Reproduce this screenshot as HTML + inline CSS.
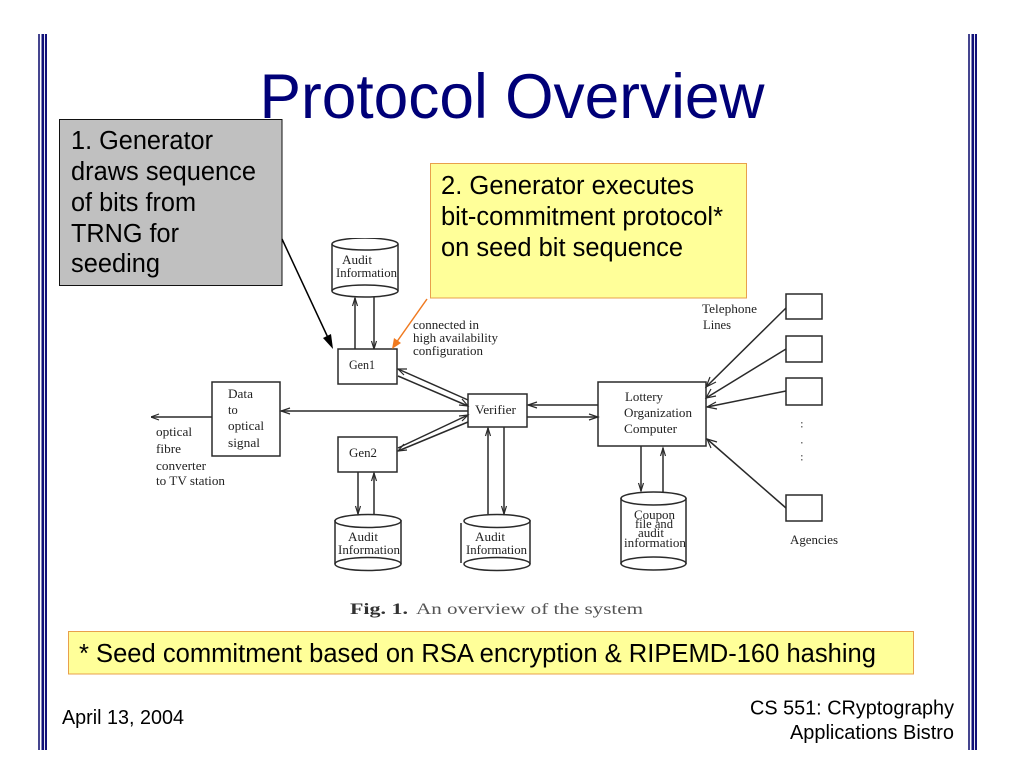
<!DOCTYPE html>
<html>
<head>
<meta charset="utf-8">
<style>
html,body{margin:0;padding:0;background:#fff;width:1024px;height:768px;overflow:hidden}
svg{display:block}
text{font-family:"Liberation Sans",sans-serif}
.d text{font-family:"Liberation Serif",serif;font-size:12.5px;fill:#222}
.l{fill:none;stroke:#2a2a2a;stroke-width:1.5}
.b{fill:#fff;stroke:#2a2a2a;stroke-width:1.5}
.h{fill:none;stroke:#2a2a2a;stroke-width:1.2}
.t{font-size:25.5px;fill:#000}
</style>
</head>
<body>
<svg width="1024" height="768" viewBox="0 0 1024 768" xmlns="http://www.w3.org/2000/svg">
<defs>
<filter id="s" x="0" y="0" width="100%" height="100%"><feGaussianBlur stdDeviation="0.35"/></filter>
</defs>

<!-- side bars -->
<g fill="#10107a">
<rect x="38" y="34" width="2" height="716" fill="#45458f"/><rect x="41.5" y="34" width="2.6" height="716"/><rect x="45" y="34" width="2" height="716"/>
<rect x="968" y="34" width="2" height="716" fill="#45458f"/><rect x="971.5" y="34" width="2.6" height="716"/><rect x="975" y="34" width="2" height="716"/>
</g>

<text x="512" y="118" font-size="63" fill="#000078" text-anchor="middle" textLength="505" lengthAdjust="spacingAndGlyphs">Protocol Overview</text>

<!-- diagram -->
<g class="d" filter="url(#s)">
<!-- audit cylinder top -->
<path class="l" d="M332 244V291M398 244V291"/>
<ellipse class="l" cx="365" cy="244" rx="33" ry="6"/>
<ellipse class="l" cx="365" cy="291" rx="33" ry="6"/>
<text x="342" y="264" textLength="30" lengthAdjust="spacingAndGlyphs">Audit</text>
<text x="336" y="277" textLength="61" lengthAdjust="spacingAndGlyphs">Information</text>
<path class="l" d="M355 349V298M374 297V349"/>
<path class="h" d="M352.500 306L355 298L357.500 306M371.500 341L374 349L376.500 341"/>

<rect class="b" x="338" y="349" width="59" height="35"/>
<text x="349" y="369" textLength="26" lengthAdjust="spacingAndGlyphs">Gen1</text>
<text x="413" y="329" textLength="66" lengthAdjust="spacingAndGlyphs">connected in</text>
<text x="413" y="342" textLength="85" lengthAdjust="spacingAndGlyphs">high availability</text>
<text x="413" y="355" textLength="70" lengthAdjust="spacingAndGlyphs">configuration</text>

<rect class="b" x="212" y="382" width="68" height="74"/>
<text x="228" y="398" textLength="25" lengthAdjust="spacingAndGlyphs">Data</text>
<text x="228" y="414">to</text>
<text x="228" y="430" textLength="36" lengthAdjust="spacingAndGlyphs">optical</text>
<text x="228" y="447" textLength="32" lengthAdjust="spacingAndGlyphs">signal</text>

<path class="l" d="M212 417H151M468 411H281"/>
<path class="h" d="M159 414L151 417L159 420M290 408L281 411L290 414"/>

<text x="156" y="436" textLength="36" lengthAdjust="spacingAndGlyphs">optical</text>
<text x="156" y="453" textLength="25" lengthAdjust="spacingAndGlyphs">fibre</text>
<text x="156" y="470" textLength="50" lengthAdjust="spacingAndGlyphs">converter</text>
<text x="156" y="485" textLength="69" lengthAdjust="spacingAndGlyphs">to TV station</text>

<rect class="b" x="468" y="394" width="59" height="33"/>
<text x="475" y="414" textLength="41" lengthAdjust="spacingAndGlyphs">Verifier</text>

<!-- gen1/gen2 to verifier -->
<path class="l" d="M398 369L468 400M398 376L468 406M398 448L468 415M398 451L468 422"/>
<path class="h" d="M407 369L398 369L404 375M459 405L468 406L462 399M459 416L468 415L462 421M407 450L398 451L404 444"/>

<rect class="b" x="338" y="437" width="59" height="35"/>
<text x="349" y="457" textLength="28" lengthAdjust="spacingAndGlyphs">Gen2</text>

<path class="l" d="M358 472V514M374 473V514"/>
<path class="h" d="M355.500 506L358 514L360.500 506M371.500 481L374 473L376.500 481"/>

<path class="l" d="M488 428V514M504 427V514"/>
<path class="h" d="M485.500 436L488 428L490.500 436M501.500 506L504 514L506.500 506"/>

<!-- audit lower left -->
<path class="l" d="M335 520V564M401 520V564"/>
<ellipse class="l" cx="368" cy="521" rx="33" ry="6.500"/>
<ellipse class="l" cx="368" cy="564" rx="33" ry="6.500"/>
<text x="348" y="541" textLength="30" lengthAdjust="spacingAndGlyphs">Audit</text>
<text x="338" y="554" textLength="62" lengthAdjust="spacingAndGlyphs">Information</text>

<!-- audit lower mid -->
<path class="l" d="M461 523V563M530 520V564"/>
<ellipse class="l" cx="497" cy="521" rx="33" ry="6.500"/>
<ellipse class="l" cx="497" cy="564" rx="33" ry="6.500"/>
<text x="475" y="541" textLength="30" lengthAdjust="spacingAndGlyphs">Audit</text>
<text x="466" y="554" textLength="61" lengthAdjust="spacingAndGlyphs">Information</text>

<!-- lottery -->
<rect class="b" x="598" y="382" width="108" height="64"/>
<text x="625" y="401" textLength="38" lengthAdjust="spacingAndGlyphs">Lottery</text>
<text x="624" y="417" textLength="68" lengthAdjust="spacingAndGlyphs">Organization</text>
<text x="624" y="433" textLength="53" lengthAdjust="spacingAndGlyphs">Computer</text>

<path class="l" d="M598 405H528M527 417H598"/>
<path class="h" d="M537 402L528 405L537 408M589 414L598 417L589 420"/>

<path class="l" d="M641 446V491M663 448V492"/>
<path class="h" d="M638.500 483L641 491L643.500 483M660.500 456L663 448L665.500 456"/>

<!-- coupon -->
<path class="l" d="M621 498V564M686 498V564"/>
<ellipse class="l" cx="653.500" cy="498.500" rx="32.500" ry="6.500"/>
<ellipse class="l" cx="653.500" cy="563.500" rx="32.500" ry="6.500"/>
<text x="634" y="519" textLength="41" lengthAdjust="spacingAndGlyphs">Coupon</text>
<text x="635" y="528" textLength="38" lengthAdjust="spacingAndGlyphs">file and</text>
<text x="638" y="537" textLength="26" lengthAdjust="spacingAndGlyphs">audit</text>
<text x="624" y="547" textLength="62" lengthAdjust="spacingAndGlyphs">information</text>

<!-- small boxes -->
<rect class="b" x="786" y="294" width="36" height="25"/>
<rect class="b" x="786" y="336" width="36" height="26"/>
<rect class="b" x="786" y="378" width="36" height="27"/>
<rect class="b" x="786" y="495" width="36" height="26"/>
<text x="702" y="313" textLength="55" lengthAdjust="spacingAndGlyphs">Telephone</text>
<text x="703" y="329" textLength="28" lengthAdjust="spacingAndGlyphs">Lines</text>
<text x="790" y="544" textLength="48" lengthAdjust="spacingAndGlyphs">Agencies</text>
<g fill="#777">
<rect x="801" y="422" width="1.500" height="1.500"/><rect x="801" y="426" width="1.500" height="1.500"/>
<rect x="801" y="442" width="1.500" height="1.500"/>
<rect x="801" y="455" width="1.500" height="1.500"/><rect x="801" y="459" width="1.500" height="1.500"/>
</g>

<path class="l" d="M786 308L706 387M786 349L706 398M786 391L707 407M786 508L707 439"/>
<path class="h" d="M710 377L706 387L716 382M711 389L706 398L716 396M716 402L707 407L717 409M711 448L707 439L717 442"/>

<text x="350" y="614" style="font-size:16px;font-weight:bold;fill:#333" textLength="58" lengthAdjust="spacingAndGlyphs">Fig. 1.</text>
<text x="416" y="614" style="font-size:16px;fill:#555" textLength="227" lengthAdjust="spacingAndGlyphs">An overview of the system</text>
</g>

<!-- gray callout -->
<rect x="59.500" y="119.500" width="222.500" height="166" fill="#c0c0c0" stroke="#111" stroke-width="1"/>
<g class="t">
<text x="71" y="149" textLength="142" lengthAdjust="spacingAndGlyphs">1. Generator</text>
<text x="71" y="180" textLength="185" lengthAdjust="spacingAndGlyphs">draws sequence</text>
<text x="71" y="211" textLength="125" lengthAdjust="spacingAndGlyphs">of bits from</text>
<text x="71" y="242" textLength="108" lengthAdjust="spacingAndGlyphs">TRNG for</text>
<text x="71" y="272" textLength="89" lengthAdjust="spacingAndGlyphs">seeding</text>
</g>
<path d="M282 239L330 342" stroke="#000" stroke-width="1.500" fill="none"/>
<path d="M333 349L323 338L331 334Z" fill="#000"/>

<!-- yellow callout -->
<rect x="430.500" y="163.500" width="316" height="134.500" fill="#ffff99" stroke="#e8a04c" stroke-width="1"/>
<g class="t">
<text x="441" y="194" textLength="253" lengthAdjust="spacingAndGlyphs">2. Generator executes</text>
<text x="441" y="225" textLength="282" lengthAdjust="spacingAndGlyphs">bit-commitment protocol*</text>
<text x="441" y="256" textLength="242" lengthAdjust="spacingAndGlyphs">on seed bit sequence</text>
</g>
<path d="M427 299L396 343" stroke="#f07a20" stroke-width="1.500" fill="none"/>
<path d="M392 349L394 338L401 343Z" fill="#f07a20"/>

<!-- bottom callout -->
<rect x="68.500" y="631.500" width="845" height="42.500" fill="#ffff99" stroke="#e8a04c" stroke-width="1"/>
<text x="79" y="662" class="t" textLength="797" lengthAdjust="spacingAndGlyphs">* Seed commitment based on RSA encryption &amp; RIPEMD-160 hashing</text>

<!-- footer -->
<text x="62" y="724" font-size="20" fill="#000" textLength="122" lengthAdjust="spacingAndGlyphs">April 13, 2004</text>
<text x="954" y="714.500" font-size="20" fill="#000" text-anchor="end" textLength="204" lengthAdjust="spacingAndGlyphs">CS 551: CRyptography</text>
<text x="954" y="739" font-size="20" fill="#000" text-anchor="end" textLength="164" lengthAdjust="spacingAndGlyphs">Applications Bistro</text>
</svg>
</body>
</html>
